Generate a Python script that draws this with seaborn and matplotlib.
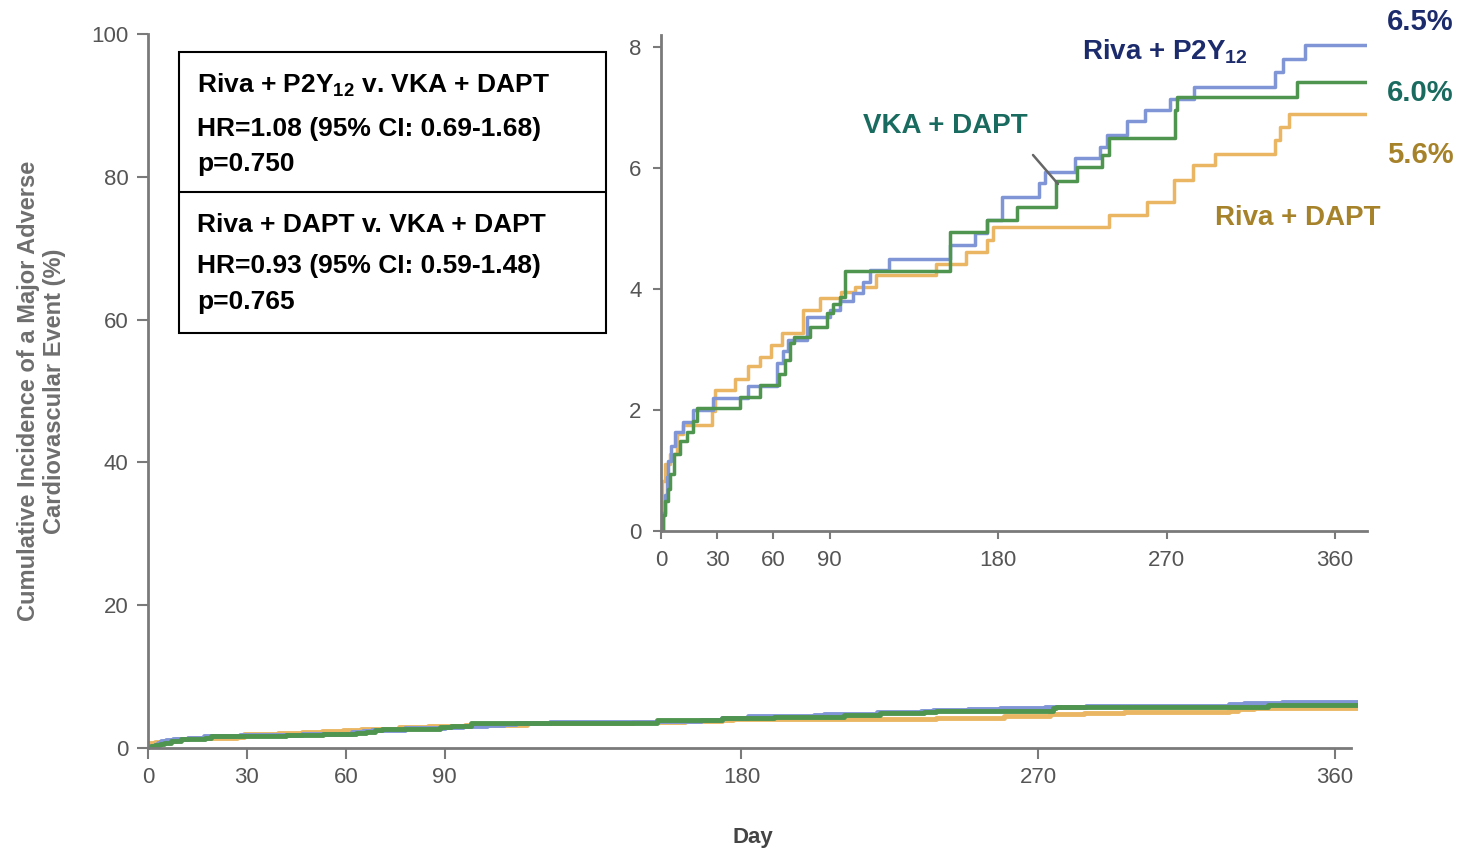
import numpy as np
import pandas as pd
import matplotlib
matplotlib.use('Agg')
import matplotlib.pyplot as plt
import seaborn as sns
from matplotlib.patches import Rectangle
from matplotlib.lines import Line2D

riva_p2y12_dias = [0, 1, 2, 3, 4, 5.5, 7.5, 12, 17, 28, 46.6, 61.8, 65.3, 68, 77.8, 90, 95.6,
                   102.7, 108, 111.6, 122, 154.4, 167.7, 174, 182, 202, 205, 221, 234.5, 238,
                   248.8, 258.5, 272, 284.4, 328, 332.4, 344, 377]
riva_p2y12_val = [0, 0.3, 0.6, 0.9, 1.15, 1.4, 1.63, 1.8, 2.0, 2.2, 2.39, 2.77, 2.97, 3.16, 3.54,
                  3.66, 3.8, 3.93, 4.12, 4.31, 4.5, 4.73, 4.93, 5.14, 5.53, 5.75, 5.94, 6.16,
                  6.35, 6.55, 6.77, 6.96, 7.15, 7.34, 7.59, 7.81, 8.03, 8.03]

vka_dapt_dias = [0, 1, 2, 3.5, 5, 7, 10, 13.7, 17.3, 19, 42, 53, 63, 66, 69, 71, 79.6, 88.5, 92,
                 95.6, 98, 154.4, 174, 190, 211, 222, 235.4, 239, 274.6, 275.5, 339.6, 377]
vka_dapt_val = [0, 0.27, 0.5, 0.7, 0.94, 1.27, 1.49, 1.63, 1.82, 2.03, 2.22, 2.41, 2.6, 2.83, 3.1,
                3.21, 3.38, 3.6, 3.76, 3.87, 4.3, 4.94, 5.14, 5.36, 5.78, 6.02, 6.21, 6.49, 6.96,
                7.18, 7.43, 7.43]

riva_dapt_dias = [0, 0.4, 2.1, 4.8, 8.4, 12, 27, 29, 39.5, 46.6, 52.9, 59, 64.5, 76, 85, 96,
                  103.6, 115, 147, 163, 174, 177.5, 239, 259.5, 273.7, 284, 296, 328, 330.7,
                  335.5, 377]
riva_dapt_val = [0, 0.83, 1.1, 1.27, 1.6, 1.76, 1.98, 2.33, 2.52, 2.72, 2.88, 3.07, 3.27, 3.65,
                 3.85, 3.95, 4.04, 4.23, 4.42, 4.62, 4.81, 5.03, 5.22, 5.44, 5.8, 6.05, 6.24,
                 6.46, 6.68, 6.9, 6.9]

grupos = ['Riva + DAPT', 'Riva + P2Y12', 'VKA + DAPT']
pct_final = {'Riva + P2Y12': 6.5, 'VKA + DAPT': 6.0, 'Riva + DAPT': 5.6}
ticks_dias = [0, 30, 60, 90, 180, 270, 360]
ticks_y_main = [0, 20, 40, 60, 80, 100]
ticks_y_inset = [0, 2, 4, 6, 8]

colores = {'Riva + P2Y12': '#7f95d6', 'VKA + DAPT': '#4f944f', 'Riva + DAPT': '#eab664'}

curvas = {
    'Riva + P2Y12': (riva_p2y12_dias, riva_p2y12_val),
    'VKA + DAPT': (vka_dapt_dias, vka_dapt_val),
    'Riva + DAPT': (riva_dapt_dias, riva_dapt_val),
}
partes = []
for g in grupos:
    d, v = curvas[g]
    t = pd.DataFrame({'grupo': g, 'dia': d, 'valor': v})
    # la grafica principal usa el porcentaje real (el recuadro esta estirado)
    t['pct'] = t['valor'] * pct_final[g] / t['valor'].iloc[-1]
    partes.append(t)
datos = pd.concat(partes, ignore_index=True)

sns.set_style('ticks')
plt.rcParams['font.family'] = ['Liberation Sans', 'DejaVu Sans']
plt.rcParams['mathtext.fontset'] = 'custom'
plt.rcParams['mathtext.rm'] = 'Liberation Sans'
plt.rcParams['mathtext.bf'] = 'Liberation Sans:bold'

gris = '#7a7a7a'
fig = plt.figure(figsize=(14.72, 8.49), dpi=100)

# grafica principal
ax = fig.add_axes([148 / 1472, 101 / 849, 1210 / 1472, 714 / 849])
sns.lineplot(data=datos, x='dia', y='pct', hue='grupo', hue_order=grupos, palette=colores,
             estimator=None, sort=False, drawstyle='steps-post', linewidth=3.5,
             legend=False, ax=ax)
ax.set_xlim(0, 367)
ax.set_ylim(0, 100)
ax.set_xticks(ticks_dias)
ax.set_yticks(ticks_y_main)
sns.despine(ax=ax)
ax.spines['bottom'].set_bounds(0, 365)
for s in ['left', 'bottom']:
    ax.spines[s].set_color(gris)
    ax.spines[s].set_linewidth(2)
ax.tick_params(colors=gris, labelcolor='#555555', labelsize=16, length=8, width=1.5, pad=6)
ax.set_xlabel('Day', fontsize=16, fontweight='bold', color='#444444', labelpad=28)
ax.set_ylabel('Cumulative Incidence of a Major Adverse\nCardiovascular Event (%)',
              fontsize=17, fontweight='bold', color='#6e6e6e', labelpad=18)

# recuadro ampliado
ax_in = fig.add_axes([661 / 1472, 318 / 849, 706 / 1472, 496 / 849])
sns.lineplot(data=datos, x='dia', y='valor', hue='grupo', hue_order=grupos, palette=colores,
             estimator=None, sort=False, drawstyle='steps-post', linewidth=2.5,
             legend=False, ax=ax_in)
ax_in.set_xlim(0, 377)
ax_in.set_ylim(0, 8.2)
ax_in.set_xticks(ticks_dias)
ax_in.set_yticks(ticks_y_inset)
ax_in.set_xlabel('')
ax_in.set_ylabel('')
sns.despine(ax=ax_in)
for s in ['left', 'bottom']:
    ax_in.spines[s].set_color(gris)
    ax_in.spines[s].set_linewidth(2)
ax_in.tick_params(colors=gris, labelcolor='#555555', labelsize=16, length=6, width=1.5, pad=8)

# cuadro con los HR
fig.add_artist(Rectangle((179 / 1472, 1 - 333 / 849), 427 / 1472, 281 / 849,
                         transform=fig.transFigure, fill=False, ec='black', lw=1.5))
fig.add_artist(Line2D([179 / 1472, 606 / 1472], [1 - 192 / 849, 1 - 192 / 849],
                      transform=fig.transFigure, color='black', lw=1.5))
lineas_cuadro = [
    (85, r'Riva + P2Y$_{\mathbf{12}}$ v. VKA + DAPT'),
    (129, 'HR=1.08 (95% CI: 0.69-1.68)'),
    (164, 'p=0.750'),
    (225, 'Riva + DAPT v. VKA + DAPT'),
    (266, 'HR=0.93 (95% CI: 0.59-1.48)'),
    (302, 'p=0.765'),
]
for y, txt in lineas_cuadro:
    fig.text(197 / 1472, 1 - y / 849, txt, fontsize=19, fontweight='bold',
             color='black', va='center', ha='left')

# etiquetas de las curvas
navy = '#1c2b6c'
teal = '#1a6b5f'
oro = '#a6832b'
fig.text(1165 / 1472, 1 - 52 / 849, r'Riva + P2Y$_{\mathbf{12}}$', fontsize=20,
         fontweight='bold', color=navy, ha='center', va='center')
fig.text(945 / 1472, 1 - 126 / 849, 'VKA + DAPT', fontsize=20, fontweight='bold',
         color=teal, ha='center', va='center')
fig.text(1298 / 1472, 1 - 218 / 849, 'Riva + DAPT', fontsize=20, fontweight='bold',
         color=oro, ha='center', va='center')
fig.text(1420 / 1472, 1 - 22 / 849, '6.5%', fontsize=21, fontweight='bold',
         color=navy, ha='center', va='center')
fig.text(1420 / 1472, 1 - 93 / 849, '6.0%', fontsize=21, fontweight='bold',
         color=teal, ha='center', va='center')
fig.text(1420 / 1472, 1 - 155 / 849, '5.6%', fontsize=21, fontweight='bold',
         color=oro, ha='center', va='center')
fig.add_artist(Line2D([1033 / 1472, 1058 / 1472], [1 - 155 / 849, 1 - 184 / 849],
                      transform=fig.transFigure, color='#666666', lw=1.8))

fig.savefig('out.png', dpi=100, facecolor='white')
